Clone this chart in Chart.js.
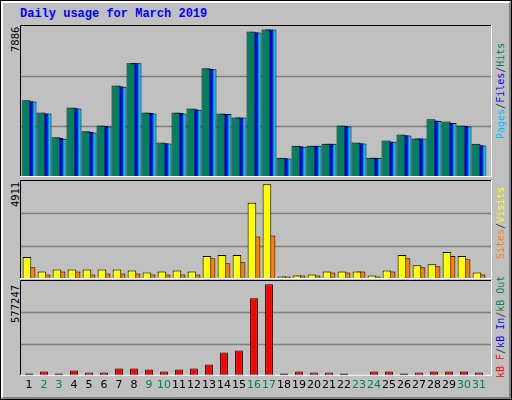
<!DOCTYPE html>
<html><head><meta charset="utf-8">
<script src="https://cdn.jsdelivr.net/npm/chart.js@4/dist/chart.umd.min.js"></script>
<style>
html,body{margin:0;padding:0;background:#c0c0c0;}
#frame{position:absolute;left:0;top:0;width:510px;height:398px;border:1px solid #000;background:#c0c0c0;}
#inner{position:absolute;left:0;top:0;width:506px;height:394px;border-top:2px solid #fff;border-left:2px solid #fff;border-right:2px solid #808080;border-bottom:2px solid #808080;}
canvas{position:absolute;left:0;}
.t{position:absolute;font-family:"Liberation Mono",monospace;font-weight:bold;font-size:12px;color:#0000ff;left:20px;top:7px;white-space:nowrap;}
.rot{position:absolute;white-space:nowrap;transform-origin:0 0;transform:rotate(-90deg);}
.lab{font-family:"DejaVu Sans",sans-serif;font-size:10px;color:#000;}
.leg{font-family:"DejaVu Sans Mono",monospace;font-size:10px;}
</style></head><body>
<div id="frame"><div id="inner"></div></div>
<div class="t">Daily usage for March 2019</div>
<div class="rot lab" style="left:10px;top:52px">7886</div>
<div class="rot lab" style="left:10px;top:207px">4911</div>
<div class="rot lab" style="left:10px;top:323px">577247</div>
<div class="rot leg" style="left:495px;top:139px"><span style="color:#00c0ff">Pages</span><span style="color:#404040">/</span><span style="color:#0000ff">Files</span><span style="color:#404040">/</span><span style="color:#00805c">Hits</span></div>
<div class="rot leg" style="left:495px;top:259px"><span style="color:#ff8000">Sites</span><span style="color:#404040">/</span><span style="color:#ffff00">Visits</span></div>
<div class="rot leg" style="left:495px;top:378px"><span style="color:#ff0000">kB F</span><span style="color:#404040">/</span><span style="color:#0000ff">kB In</span><span style="color:#404040">/</span><span style="color:#00805c">kB Out</span></div>
<canvas id="c1" style="top:25px" width="512" height="152"></canvas>
<canvas id="c2" style="top:180px" width="512" height="99"></canvas>
<canvas id="c3" style="top:280px" width="512" height="115"></canvas>
<script>
const days = ["1","2","3","4","5","6","7","8","9","10","11","12","13","14","15","16","17","18","19","20","21","22","23","24","25","26","27","28","29","30","31"];
const weekend = ["2","3","9","10","16","17","23","24","30","31"];
const hits = [4103,3443,2123,3711,2444,2747,4888,6083,3443,1838,3443,3657,5816,3390,3176,7778,7886,1035,1677,1677,1784,2747,1838,1035,1945,2266,2052,3086,2961,2747,1784];
const files = [4050,3400,2080,3680,2400,2720,4850,6083,3420,1800,3420,3620,5780,3380,3176,7740,7886,1000,1640,1677,1784,2720,1800,1035,1900,2230,2052,3020,2900,2720,1700];
const pages = [4030,3390,2050,3660,2380,2700,4830,6083,3400,1790,3400,3600,5760,3370,3176,7720,7886,990,1620,1677,1784,2700,1790,1035,1890,2220,2052,3000,2890,2700,1690];
const visits = [1135,390,496,496,496,496,496,443,337,390,443,390,1188,1241,1241,3954,4911,124,177,230,390,390,390,177,443,1241,709,762,1401,1188,337];
const sites = [603,230,390,390,230,284,284,284,230,230,230,230,1081,816,869,2199,2252,124,177,177,337,337,390,124,390,1081,603,656,1188,1028,230];
const kbF = [14747,27387,14747,33707,21067,21067,46347,46347,40027,27387,40027,46347,71627,147469,160109,488754,577247,14747,27387,21067,21067,14747,3000,27387,27387,14747,21067,27387,27387,27387,21067];
const maxes = [8126, 5134, 603500];

const framePlugin = {
  id:'frame',
  beforeDatasetsDraw(chart){
    const {ctx} = chart;
    const y = chart.scales.y;
    ctx.save();
    ctx.strokeStyle='#808080'; ctx.lineWidth=1.5;
    [1,2].forEach(i=>{
      const py = Math.round(y.getPixelForValue(y.max*i/3))+0.5;
      ctx.beginPath(); ctx.moveTo(20,py); ctx.lineTo(491,py); ctx.stroke();
    });
    ctx.restore();
  },
  afterDraw(chart){
    const {ctx, chartArea:a} = chart;
    ctx.save(); ctx.lineWidth=1;
    ctx.strokeStyle='#000';
    ctx.beginPath(); ctx.moveTo(20.5,a.bottom); ctx.lineTo(20.5,a.top+0.5); ctx.lineTo(491,a.top+0.5); ctx.stroke();
    ctx.strokeStyle='#fff';
    ctx.beginPath(); ctx.moveTo(491.5,a.top); ctx.lineTo(491.5,a.bottom-0.5); ctx.lineTo(20,a.bottom-0.5); ctx.stroke();
    ctx.restore();
  }
};

function mk(id, datasets, max, showX){
  return new Chart(document.getElementById(id), {
    type:'bar',
    data:{labels:days, datasets},
    options:{
      responsive:false, animation:false,
      layout:{padding:{left:21.5,right:25.5,top:0,bottom:0}},
      plugins:{legend:{display:false},tooltip:{enabled:false}},
      scales:{
        x:{display:showX, grid:{display:false,drawTicks:false}, border:{display:false},
           ticks:{padding:3, maxRotation:0, autoSkip:false, font:{family:'DejaVu Sans',size:11},
             color:(c)=>weekend.includes(days[c.index])?'#00805c':'#000'}},
        y:{display:false, min:0, max:max}
      }
    },
    plugins:[framePlugin]
  });
}
const bd = {borderColor:'#000', borderWidth:1, borderSkipped:false};
mk('c1',[
  {data:hits, backgroundColor:'#00805c', order:0, categoryPercentage:0.6, barPercentage:3, ...bd},
  {data:files, backgroundColor:'#0000ff', order:1, categoryPercentage:0.6, barPercentage:3, ...bd},
  {data:pages, backgroundColor:'#00c0ff', order:2, categoryPercentage:0.6, barPercentage:3, ...bd}
], maxes[0], false);
mk('c2',[
  {data:visits, backgroundColor:'#ffff00', order:0, categoryPercentage:0.55, barPercentage:2.1, ...bd},
  {data:sites, backgroundColor:'#ff8000', order:1, categoryPercentage:0.55, barPercentage:2.1, ...bd}
], maxes[1], false);
mk('c3',[
  {data:kbF, backgroundColor:'#ff0000', categoryPercentage:0.52, barPercentage:1, ...bd}
], maxes[2], true);
</script>
</body></html>
